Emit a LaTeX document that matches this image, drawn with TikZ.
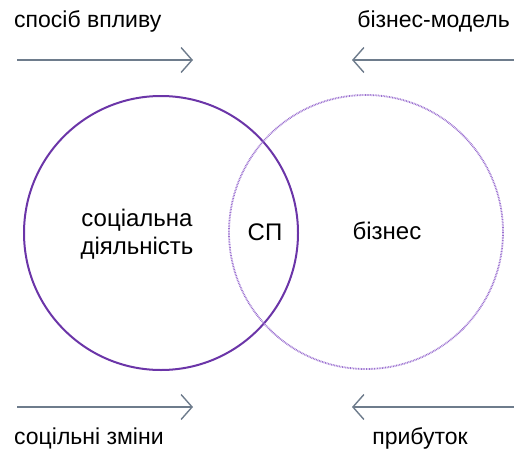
\documentclass[tikz,border=0pt]{standalone}
\usepackage{fontspec}
\setmainfont{Liberation Sans}
\usetikzlibrary{arrows.meta}
\definecolor{violetline}{HTML}{6B35A8}
\definecolor{violetdot}{HTML}{9A6FD0}
\definecolor{flowgrey}{HTML}{6E7C8C}
\tikzset{
  flow/.style={draw=flowgrey, line width=1.4pt, -{Straight Barb[length=11pt,width=25pt,line width=1.4pt]}},
  lbl/.style={font=\fontsize{23}{28}\selectfont, inner sep=0pt},
  inlbl/.style={font=\fontsize{24}{28}\selectfont, inner sep=0pt}
}
\begin{document}
\begin{tikzpicture}[x=1pt,y=-1pt]
      \useasboundingbox (0,0) rectangle (514,450);
      \draw[violetline, line width=2pt] (161,233) circle (137);
      \draw[violetdot, line width=1.8pt, dash pattern=on 0.8pt off 0.8pt] (366,232) circle (137);
      \draw
        (14,21) node[lbl, anchor=west] (vplyv){спосіб впливу}
        (510,21) node[lbl, anchor=east] (model){бізнес-модель}
        (14,438) node[lbl, anchor=west] (zminy){соцільні зміни}
        (420,438) node[lbl] (prybutok){прибуток}
        (137,234) node[inlbl, align=center] (social){соціальна\\діяльність}
        (265,232) node[inlbl] (sp){СП}
        (387,231) node[inlbl] (biznes){бізнес};
      \coordinate (tl0) at (17,60);
      \coordinate (tl1) at (193,60);
      \coordinate (tr0) at (514,60);
      \coordinate (tr1) at (352,60);
      \coordinate (bl0) at (17,407);
      \coordinate (bl1) at (193,407);
      \coordinate (br0) at (514,407);
      \coordinate (br1) at (352,407);
      \begin{scope}[flow]
        \draw (tl0) to (tl1);
        \draw (tr0) to (tr1);
        \draw (bl0) to (bl1);
        \draw (br0) to (br1);
      \end{scope}
    \end{tikzpicture}
\end{document}
